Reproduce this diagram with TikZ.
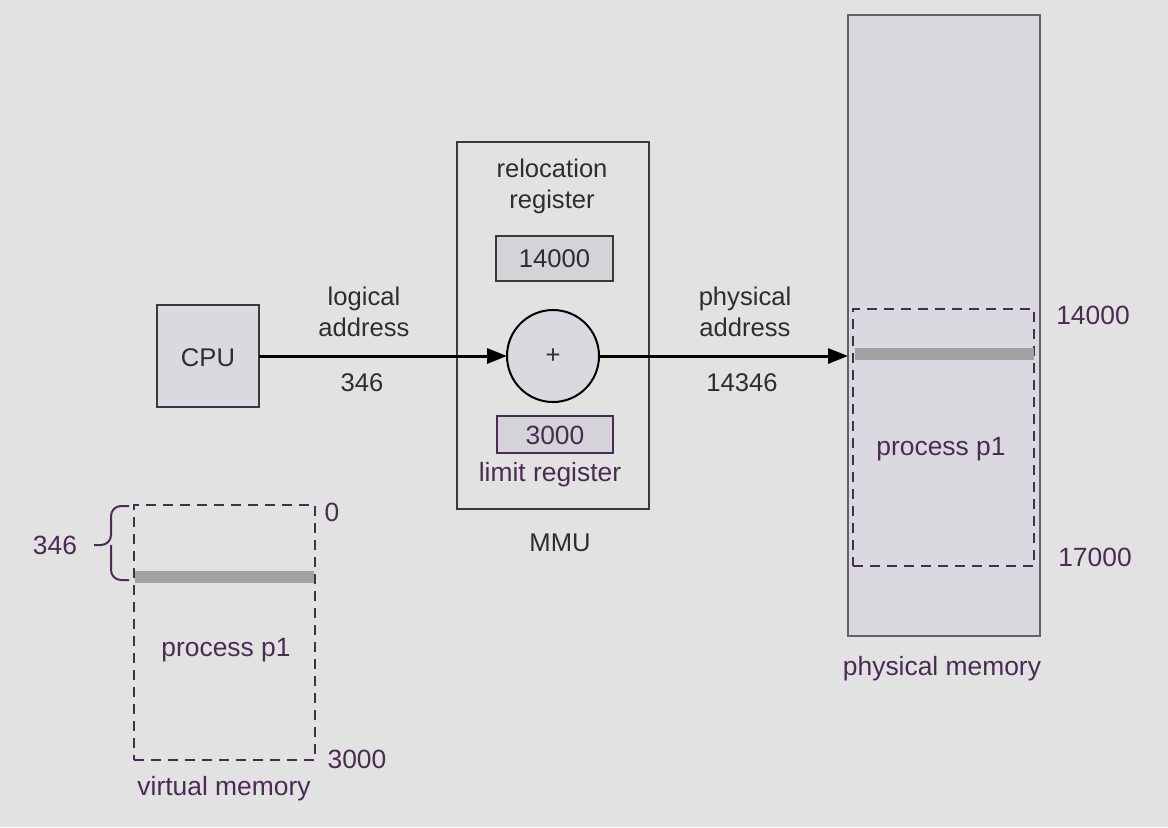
\documentclass[tikz,border=0pt]{standalone}
\usepackage{fontspec}
\setmainfont{Liberation Sans}
\usetikzlibrary{arrows.meta}
\definecolor{bg}{HTML}{E2E2E2}
\definecolor{boxfill}{HTML}{DAD9DF}
\definecolor{regfill}{HTML}{D4D3D8}
\definecolor{edge}{HTML}{3A3A3A}
\definecolor{txt}{HTML}{2E2E2E}
\definecolor{purp}{HTML}{4A2C52}
\definecolor{bar}{HTML}{A2A2A2}
\tikzset{
  box/.style={draw=edge, line width=1pt, inner sep=0pt, outer sep=0pt},
  dbox/.style={draw=purp, line width=1pt, dash pattern=on 5pt off 3.5pt, inner sep=0pt, outer sep=0pt},
  lbl/.style={text=txt, font=\fontsize{12.8}{15.5}\selectfont, align=center, inner sep=0pt},
  plbl/.style={text=purp, font=\fontsize{13.2}{15.5}\selectfont, align=center, inner sep=0pt},
  conn/.style={line width=1.5pt, black, -{Triangle[length=10pt,width=7.5pt]}},
  barline/.style={bar, line width=6pt},
}
\begin{document}
\begin{tikzpicture}[x=0.5pt,y=-0.5pt]
\fill[bg] (0,0) rectangle (1168,827);
\useasboundingbox (0,0) rectangle (1168,827);
% CPU
\node[box, fill=boxfill, minimum width=51pt, minimum height=51pt] (cpu) at (208,356) {};
\node[lbl] (cputxt) at (208,358) {CPU};
% MMU
\node[box, minimum width=96pt, minimum height=183.5pt] (mmu) at (553,325.5) {};
\node[lbl] (reloc) at (552,186) {relocation\\register};
\node[box, fill=regfill, minimum width=58.5pt, minimum height=22.5pt] (reg) at (554.5,258.5) {};
\node[lbl] (regtxt) at (554.5,259) {14000};
\node[box, draw=black, fill=boxfill, circle, minimum size=46pt] (plus) at (553,356) {};
\node[lbl] (plustxt) at (553,356) {+};
\node[box, draw=purp, fill=regfill, minimum width=58pt, minimum height=18.5pt] (lim) at (555,434.5) {};
\node[plbl] (limtxt) at (555,435) {3000};
\node[plbl] (limlbl) at (550,475) {limit register};
\node[lbl] (mmulbl) at (560,543) {MMU};
% physical memory
\node[box, draw=edge!80, fill=boxfill, minimum width=96pt, minimum height=310.5pt] (pmem) at (944,325.5) {};
\node[dbox, minimum width=90.5pt, minimum height=128.5pt] (pproc) at (943.5,437.5) {};
\coordinate (pbarL) at (855,354);
\coordinate (pbarR) at (1034,354);
\draw[barline] (pbarL) -- (pbarR);
\node[plbl] (pproctxt) at (941,449) {process p1};
\node[plbl] (p14000) at (1093,315) {14000};
\node[plbl] (p17000) at (1095,557) {17000};
\node[plbl] (pmemlbl) at (942,669) {physical memory};
% connectors
\coordinate (pa) at (848,356);
\draw[conn] (cpu.east) -- (plus.west);
\draw[conn] (plus.east) -- (pa);
\node[lbl] (logl) at (364,312) {logical\\address};
\node[lbl] (logv) at (362,383) {346};
\node[lbl] (phyl) at (745,312) {physical\\address};
\node[lbl] (phyv) at (742,383) {14346};
% virtual memory
\node[dbox, minimum width=90.5pt, minimum height=127.5pt] (vproc) at (224.5,632.5) {};
\coordinate (vbarL) at (135,577);
\coordinate (vbarR) at (314,577);
\draw[barline] (vbarL) -- (vbarR);
\node[plbl] (vproctxt) at (226,650) {process p1};
\node[plbl] (v0) at (332,512) {0};
\node[plbl] (v3000) at (357,759) {3000};
\node[plbl] (vmemlbl) at (224,789) {virtual memory};
\coordinate (brT) at (129,506);
\coordinate (brB) at (129,580);
\coordinate (brM) at (94,545);
\draw[purp, line width=1pt, rounded corners=5pt] (brT) -- (111,506) -- (111,545) -- (brM);
\draw[purp, line width=1pt, rounded corners=5pt] (brB) -- (111,580) -- (111,545);
\node[plbl] (v346) at (55,545) {346};
\end{tikzpicture}
\end{document}
